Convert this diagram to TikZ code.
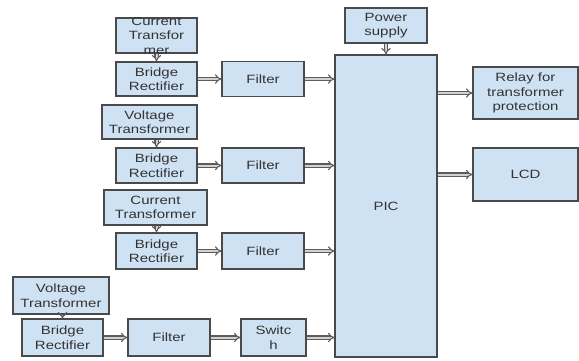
\documentclass[tikz,border=0pt]{standalone}
\usepackage{fontspec}
\setmainfont{Liberation Sans}[FakeStretch=1.25]
\usetikzlibrary{arrows.meta}
\definecolor{boxfill}{HTML}{CFE2F3}
\definecolor{boxline}{HTML}{4A4A4A}
\definecolor{txt}{HTML}{333333}
\tikzset{
  lbl/.style={align=center, text=txt, font=\fontsize{12}{14.5}\selectfont},
  blk/.style={lbl, draw=boxline, line width=1.2pt, fill=boxfill, inner sep=0pt},
  flow/.style={draw=boxline!90, line width=1.1pt, double=gray!35,
    double distance=2pt, -{Implies}},
}
\begin{document}
\begin{tikzpicture}[x=1pt,y=1pt]
\useasboundingbox (0,0) rectangle (579,360);
% input chain 1
\node[blk, minimum width=81, minimum height=35] (ct1) at (156.5,324.5) {};
\begin{scope}
  \clip (ct1.south west) rectangle (ct1.north east);
  \node[lbl, inner sep=0pt] (ct1t) at (ct1.center) {Current\\Transfor\\mer};
\end{scope}
\node[blk, minimum width=81, minimum height=34] (br1) at (156.5,281) {Bridge\\Rectifier};
\node[blk, minimum width=82, minimum height=35] (f1) at (263,281) {Filter};
% input chain 2
\node[blk, minimum width=95, minimum height=34] (vt2) at (149.5,238) {Voltage\\Transformer};
\node[blk, minimum width=81, minimum height=35] (br2) at (156.5,194.5) {Bridge\\Rectifier};
\node[blk, minimum width=82, minimum height=35] (f2) at (263,194.5) {Filter};
% input chain 3
\node[blk, minimum width=103, minimum height=35] (ct3) at (155.5,152.5) {Current\\Transformer};
\node[blk, minimum width=81, minimum height=36] (br3) at (156.5,109) {Bridge\\Rectifier};
\node[blk, minimum width=82, minimum height=36] (f3) at (263,109) {Filter};
% input chain 4
\node[blk, minimum width=96, minimum height=37] (vt4) at (61,64.5) {Voltage\\Transformer};
\node[blk, minimum width=81, minimum height=37] (br4) at (62.5,22.5) {Bridge\\Rectifier};
\node[blk, minimum width=82, minimum height=37] (f4) at (169,22.5) {Filter};
\node[blk, minimum width=65, minimum height=37] (sw) at (273.5,22.5) {Switc\\h};
% controller and outputs
\node[blk, minimum width=82, minimum height=35] (ps) at (386,334.5) {Power\\supply};
\node[blk, minimum width=102, minimum height=302] (pic) at (386,154) {PIC};
\node[blk, minimum width=105, minimum height=52] (relay) at (525.5,267) {Relay for\\transformer\\protection};
\node[blk, minimum width=105, minimum height=53] (lcd) at (525.5,185.5) {LCD};
% connectors
\draw[flow] (ct1.south -| br1.north) -- (br1.north);
\draw[flow] (vt2.south -| br2.north) -- (br2.north);
\draw[flow] (ct3.south -| br3.north) -- (br3.north);
\draw[flow] (vt4.south -| br4.north) -- (br4.north);
\draw[flow] (br1) -- (f1);
\draw[flow] (br2) -- (f2);
\draw[flow] (br3) -- (f3);
\draw[flow] (br4) -- (f4);
\draw[flow] (f4) -- (sw);
\draw[flow] (f1.east) -- (pic.west |- f1.east);
\draw[flow] (f2.east) -- (pic.west |- f2.east);
\draw[flow] (f3.east) -- (pic.west |- f3.east);
\draw[flow] (sw.east) -- (pic.west |- sw.east);
\draw[flow] (ps) -- (pic);
\draw[flow] (pic.east |- relay.west) -- (relay.west);
\draw[flow] (pic.east |- lcd.west) -- (lcd.west);
\end{tikzpicture}
\end{document}
